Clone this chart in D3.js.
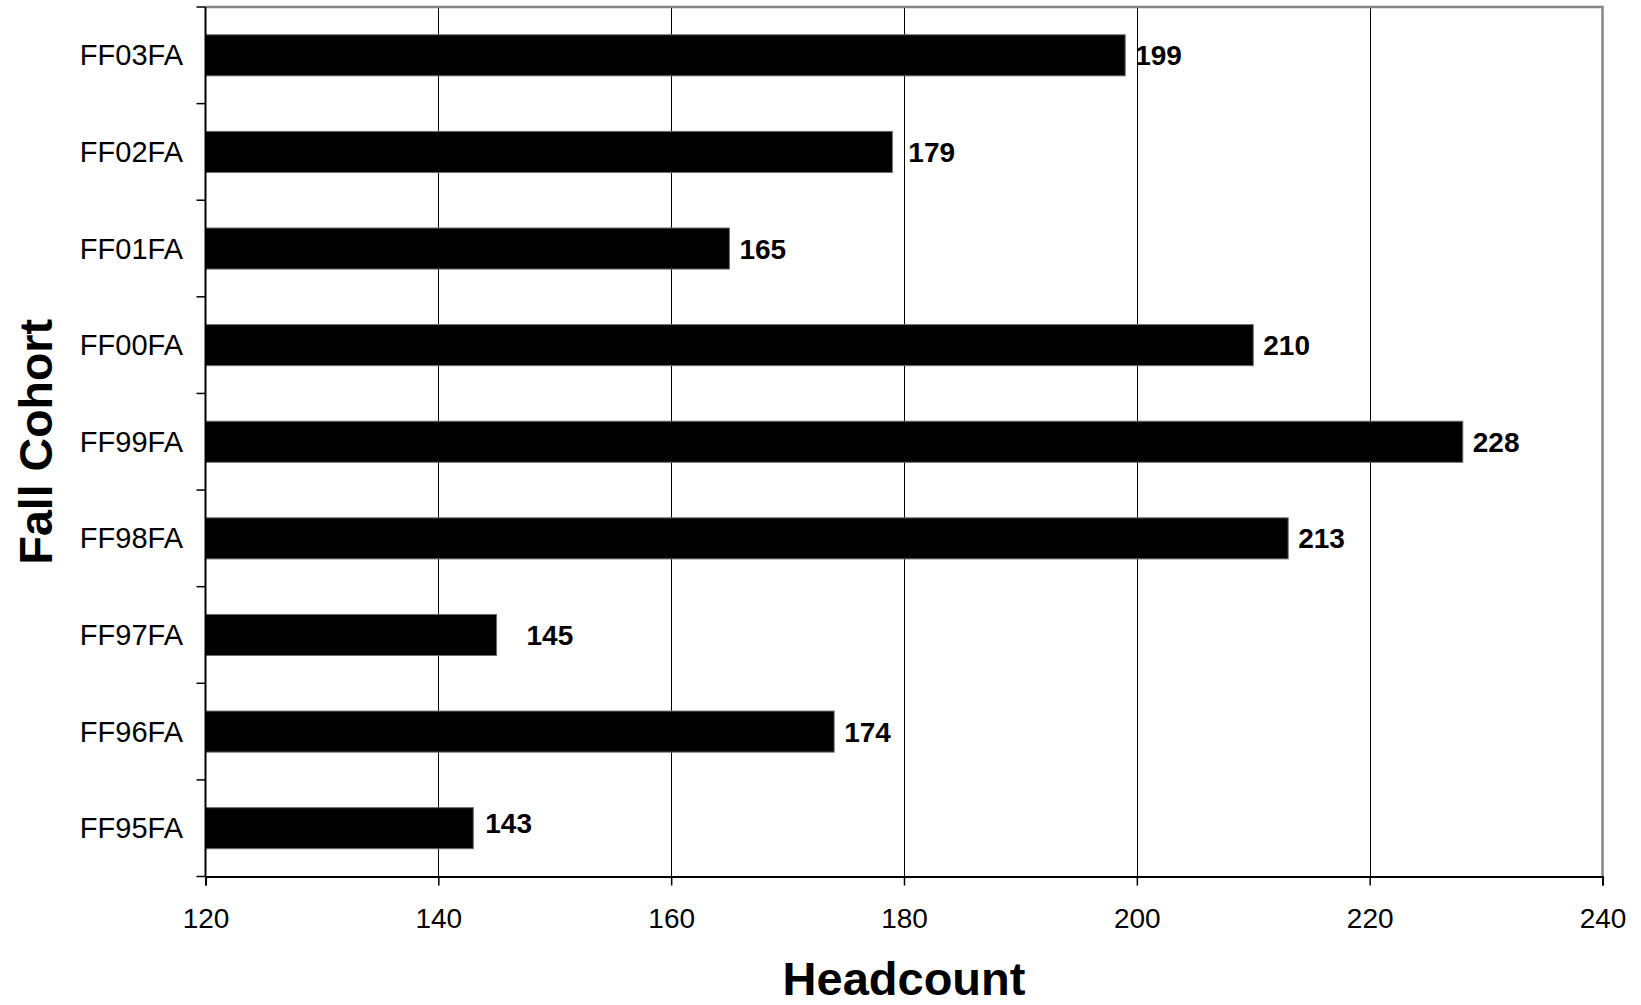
<!DOCTYPE html>
<html>
<head>
<meta charset="utf-8">
<script src="https://cdn.jsdelivr.net/npm/d3@7"></script>
<style>
  html, body { margin: 0; padding: 0; background: #fff; }
  svg { display: block; font-family: "Liberation Sans", Arial, sans-serif; }
</style>
</head>
<body>
<svg id="chart" width="1641" height="1005"></svg>
<script>
// ---- data ----
const categories = ["FF03FA", "FF02FA", "FF01FA", "FF00FA", "FF99FA", "FF98FA", "FF97FA", "FF96FA", "FF95FA"];
const headcount  = [199, 179, 165, 210, 228, 213, 145, 174, 143];
const xTicks     = [120, 140, 160, 180, 200, 220, 240];
const xTitle = "Headcount";
const yTitle = "Fall Cohort";

// ---- layout ----
const pLeft = 205.5, pRight = 1602.5, pTop = 7, pBottom = 876.5;

const svg = d3.select("#chart");

const x = d3.scaleLinear().domain([120, 240]).range([pLeft, pRight]);
const y = d3.scaleBand().domain(categories).range([pTop, pBottom]).paddingInner(0.575).paddingOuter(0.2875);

// gridlines
svg.append("g").selectAll("line")
  .data(xTicks.slice(1, -1))
  .join("line")
  .attr("x1", d => Math.round(x(d)) + 0.5).attr("x2", d => Math.round(x(d)) + 0.5)
  .attr("y1", pTop).attr("y2", pBottom)
  .attr("stroke", "#000").attr("stroke-width", 1);

// top & right border (grey)
svg.append("path")
  .attr("d", `M${pLeft},${pTop} H${pRight} V${pBottom}`)
  .attr("fill", "none").attr("stroke", "#868686").attr("stroke-width", 2.5);

// bars
const data = categories.map((c, i) => ({ c, v: headcount[i] }));
svg.append("g").selectAll("rect")
  .data(data)
  .join("rect")
  .attr("x", x(120))
  .attr("y", d => y(d.c))
  .attr("width", d => x(d.v) - x(120))
  .attr("height", y.bandwidth())
  .attr("fill", "#000")
  .attr("stroke", "#6a6a6a").attr("stroke-width", 1);

// x axis
const xAxis = d3.axisBottom(x).tickValues(xTicks).tickSize(9).tickPadding(23).tickFormat(d3.format("d"));
const gx = svg.append("g").attr("transform", `translate(0,${pBottom})`).call(xAxis);
gx.select(".domain").attr("stroke", "#000").attr("stroke-width", 2);
gx.selectAll(".tick line").attr("stroke", "#000").attr("stroke-width", 1.5);
gx.selectAll(".tick text").attr("font-size", 28).attr("fill", "#000")
  .attr("font-family", '"Liberation Sans", Arial, sans-serif');

// y axis: ticks at band boundaries
const boundaries = d3.range(categories.length + 1).map(i => pTop + i * (pBottom - pTop) / categories.length);
svg.append("g").selectAll("line")
  .data(boundaries)
  .join("line")
  .attr("x1", pLeft - 9).attr("x2", pLeft)
  .attr("y1", d => d).attr("y2", d => d)
  .attr("stroke", "#000").attr("stroke-width", 1.5);
svg.append("line")
  .attr("x1", pLeft).attr("x2", pLeft).attr("y1", pTop).attr("y2", pBottom)
  .attr("stroke", "#000").attr("stroke-width", 2);

// category labels
svg.append("g").selectAll("text")
  .data(categories)
  .join("text")
  .attr("x", 183)
  .attr("y", d => y(d) + y.bandwidth() / 2 + 10)
  .attr("text-anchor", "end")
  .attr("font-size", 29)
  .attr("fill", "#000")
  .text(d => d);

// value labels (Excel placed a few of them slightly off)
const nudge = { "FF02FA": [6, 0], "FF97FA": [20, 0], "FF95FA": [2, -5] };
svg.append("g").selectAll("text")
  .data(data)
  .join("text")
  .attr("x", d => x(d.v) + 10 + (nudge[d.c] ? nudge[d.c][0] : 0))
  .attr("y", d => y(d.c) + y.bandwidth() / 2 + 10 + (nudge[d.c] ? nudge[d.c][1] : 0))
  .attr("font-size", 28)
  .attr("font-weight", "bold")
  .attr("fill", "#000")
  .text(d => d.v);

// axis titles
svg.append("text")
  .attr("x", (pLeft + pRight) / 2).attr("y", 995)
  .attr("text-anchor", "middle")
  .attr("font-size", 47).attr("font-weight", "bold")
  .text(xTitle);

svg.append("text")
  .attr("transform", `translate(52,${(pTop + pBottom) / 2}) rotate(-90)`)
  .attr("text-anchor", "middle")
  .attr("font-size", 46.5).attr("font-weight", "bold")
  .text(yTitle);
</script>
</body>
</html>
